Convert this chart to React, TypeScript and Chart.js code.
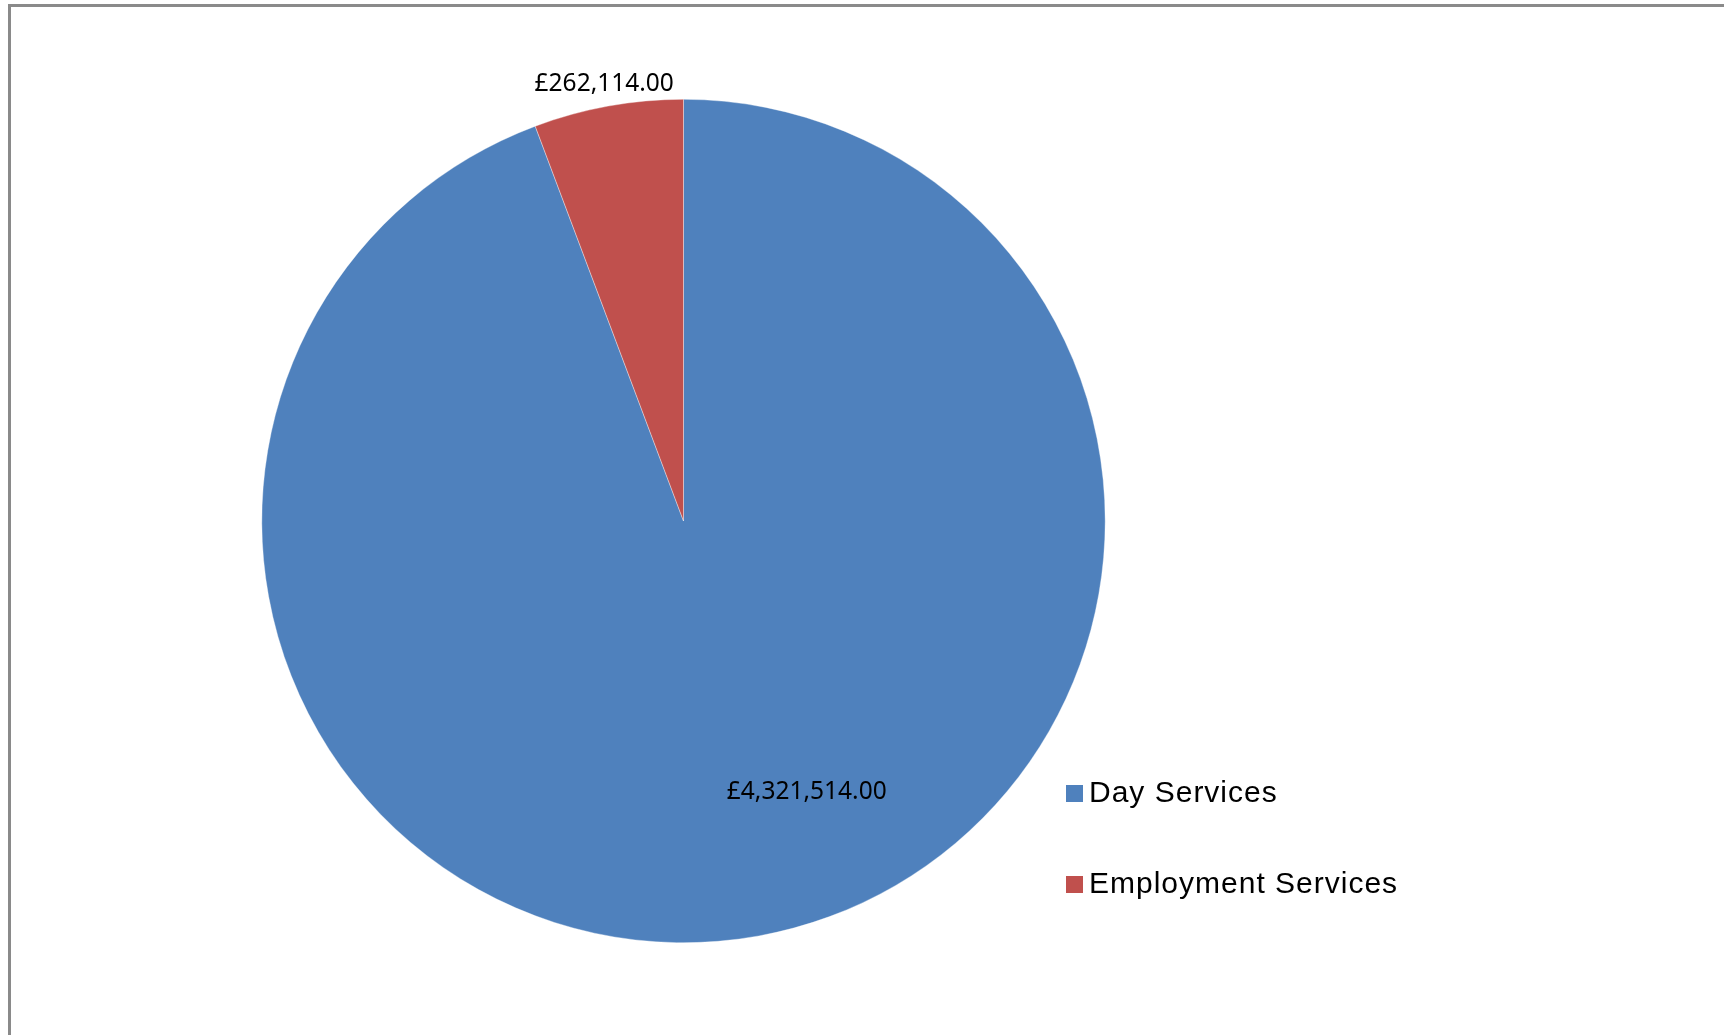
import React, { useEffect, useRef } from "react";
import { Chart, registerables } from "chart.js";

Chart.register(...registerables);

const categories: string[] = ["Day Services", "Employment Services"];
const values: number[] = [4321514, 262114];
const colors: string[] = ["#4F81BD", "#C0504D"];

const fmt = (v: number) =>
  "£" + v.toLocaleString("en-GB", { minimumFractionDigits: 2, maximumFractionDigits: 2 });

const labelPlugin = {
  id: "sliceLabels",
  afterDatasetsDraw(chart: any) {
    const ctx = chart.ctx;
    const meta = chart.getDatasetMeta(0);
    const ds = chart.data.datasets[0];
    ctx.save();
    ctx.font = "24.5px 'Noto Sans'";
    ctx.fillStyle = "#000000";
    ctx.textAlign = "center";
    ctx.textBaseline = "middle";
    meta.data.forEach((arc: any, i: number) => {
      const { x, y, startAngle, endAngle, outerRadius } = arc.getProps(
        ["x", "y", "startAngle", "endAngle", "outerRadius"],
        true
      );
      const frac = (endAngle - startAngle) / (Math.PI * 2);
      let mid = (startAngle + endAngle) / 2;
      let r: number;
      if (frac < 0.15) {
        r = outerRadius + 22;
      } else {
        r = outerRadius * 0.705;
        mid -= (14.2 * Math.PI) / 180;
      }
      const lx = x + Math.cos(mid) * r;
      const ly = y + Math.sin(mid) * r;
      ctx.fillText(fmt(ds.data[i]), lx, ly);
    });
    ctx.restore();
  },
};

const legendPlugin = {
  id: "sideLegend",
  afterDraw(chart: any) {
    const ctx = chart.ctx;
    const ds = chart.data.datasets[0];
    const left = 1066;
    const firstBaseline = 802;
    const step = 91;
    const box = 17;
    ctx.save();
    ctx.font = "30px 'Liberation Sans'";
    (ctx as any).letterSpacing = "1px";
    ctx.textAlign = "left";
    ctx.textBaseline = "alphabetic";
    chart.data.labels.forEach((lab: string, i: number) => {
      const base = firstBaseline + i * step;
      ctx.fillStyle = ds.backgroundColor[i];
      ctx.fillRect(left, base - box, box, box);
      ctx.fillStyle = "#000000";
      ctx.fillText(lab, left + 23, base);
    });
    ctx.restore();
  },
};

export default function App() {
  const ref = useRef<HTMLCanvasElement | null>(null);
  useEffect(() => {
    if (!ref.current) return;
    const chart = new Chart(ref.current, {
      type: "pie",
      data: {
        labels: categories,
        datasets: [
          {
            data: values,
            backgroundColor: colors,
            borderColor: "rgba(255,255,255,0.6)",
            borderWidth: 0.6,
          },
        ],
      },
      options: {
        animation: false,
        responsive: false,
        devicePixelRatio: 1,
        layout: { padding: { left: 261, top: 99, right: 618, bottom: 92 } },
        plugins: {
          legend: { display: false },
          tooltip: { enabled: false },
        },
      },
      plugins: [labelPlugin, legendPlugin],
    });
    return () => chart.destroy();
  }, []);

  return (
    <div
      style={{
        position: "fixed",
        left: 0,
        top: 0,
        width: 1724,
        height: 1035,
        background: "#ffffff",
        overflow: "hidden",
      }}
    >
      <div
        style={{
          position: "absolute",
          left: 8,
          top: 4,
          width: 1724,
          height: 1035,
          borderTop: "3px solid #8a8a8a",
          borderLeft: "3px solid #8a8a8a",
        }}
      />
      <canvas
        ref={ref}
        width={1724}
        height={1035}
        style={{ position: "absolute", left: 0, top: 0 }}
      />
    </div>
  );
}
